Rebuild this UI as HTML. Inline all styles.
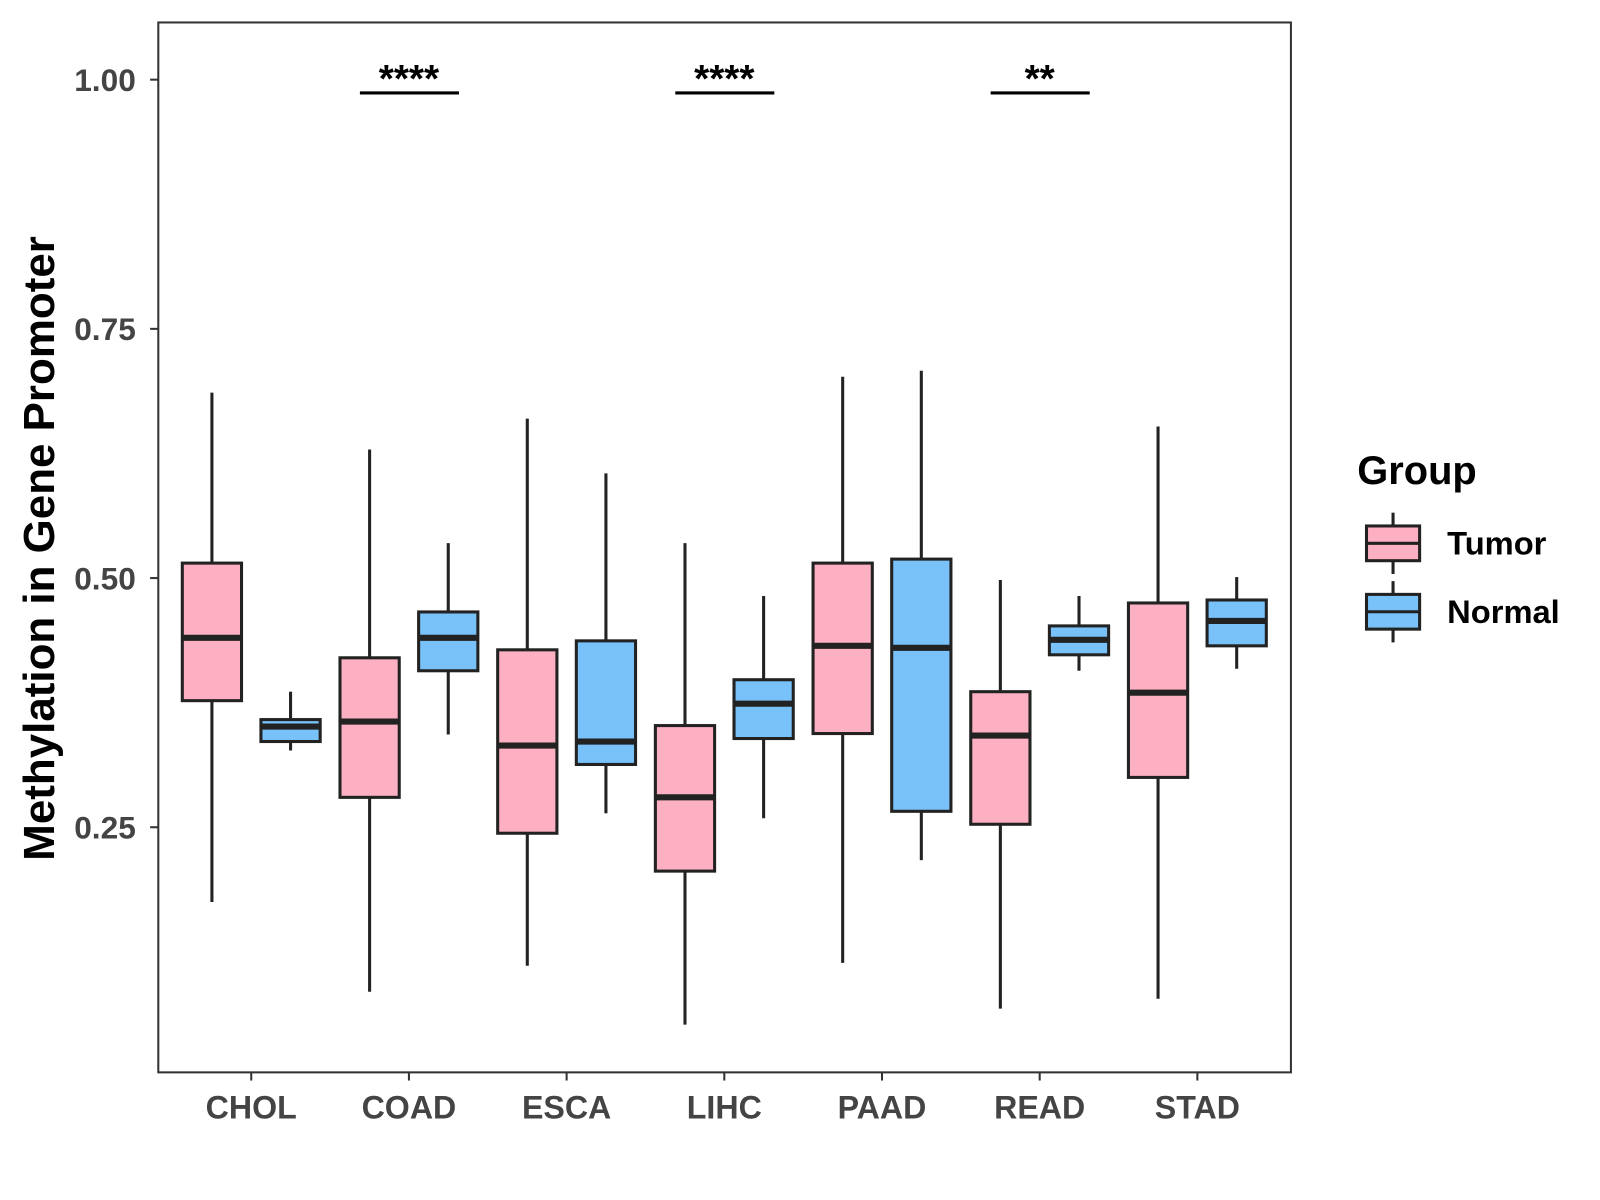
<!DOCTYPE html>
<html><head><meta charset="utf-8"><style>
body{margin:0;background:#fff;}
svg{display:block;font-family:"Liberation Sans",Arial,sans-serif;}
</style></head><body>
<svg id="chart" width="1600" height="1200" viewBox="0 0 1600 1200">
<rect x="0" y="0" width="1600" height="1200" fill="#fff"/>
<g id="plot" transform="scale(1.0213)"></g>
</svg>
<script>
const categories=["CHOL","COAD","ESCA","LIHC","PAAD","READ","STAD"];
// [lowWhisker, Q1, median, Q3, highWhisker]
const tumorStats=[[0.175,0.377,0.440,0.515,0.686],[0.085,0.280,0.356,0.420,0.629],[0.111,0.244,0.332,0.428,0.660],[0.052,0.206,0.280,0.352,0.535],[0.114,0.344,0.432,0.515,0.702],[0.068,0.253,0.342,0.386,0.498],[0.078,0.300,0.385,0.475,0.652]];
const normalStats=[[0.327,0.336,0.351,0.358,0.386],[0.343,0.407,0.440,0.466,0.535],[0.264,0.313,0.336,0.437,0.605],[0.259,0.339,0.374,0.398,0.482],[0.217,0.266,0.430,0.519,0.708],[0.407,0.423,0.438,0.452,0.482],[0.409,0.432,0.457,0.478,0.501]];
const yTicks=[0.25,0.50,0.75,1.00];
const yTickLabels=["0.25","0.50","0.75","1.00"];
const sigCategories=["COAD","LIHC","READ"];
const sigLabels=["****","****","**"];

const NS="http://www.w3.org/2000/svg";
const g=document.getElementById("plot");
const PL=155,PR=1264,PT=22,PB=1050;
const y=v=>78+(1-v)*976;
const xc=i=>246+i*154.4;
function mk(t,a,p){const e=document.createElementNS(NS,t);for(const k in a)e.setAttribute(k,a[k]);(p||g).appendChild(e);return e;}

const panel=mk("rect",{x:PL,y:PT,width:PR-PL,height:PB-PT,fill:"none",stroke:"#333","stroke-width":2});



yTicks.forEach((v,i)=>{
  const tk=mk("line",{x1:PL-8,x2:PL,y1:y(v),y2:y(v),stroke:"#333","stroke-width":2});
  
  
  const t=mk("text",{x:PL-22,y:y(v)+11,"text-anchor":"end","font-size":31,"font-weight":"bold",fill:"#444"});
  t.textContent=yTickLabels[i];
  
  
});
categories.forEach((c,i)=>{
  const tk=mk("line",{x1:xc(i),x2:xc(i),y1:PB,y2:PB+8,stroke:"#333","stroke-width":2});
  
  
  const t=mk("text",{x:xc(i),y:PB+45,"text-anchor":"middle","font-size":31.5,"font-weight":"bold",fill:"#444"});
  t.textContent=c;
  
  
});
function box(cx,s,fill,name){
  const grp=mk("g",{});
  
  
  const w=58;
  mk("line",{x1:cx,x2:cx,y1:y(s[4]),y2:y(s[3]),stroke:"#222","stroke-width":3},grp);
  mk("line",{x1:cx,x2:cx,y1:y(s[1]),y2:y(s[0]),stroke:"#222","stroke-width":3},grp);
  mk("rect",{x:cx-w/2,y:y(s[3]),width:w,height:y(s[1])-y(s[3]),fill:fill,stroke:"#222","stroke-width":3},grp);
  mk("line",{x1:cx-w/2,x2:cx+w/2,y1:y(s[2]),y2:y(s[2]),stroke:"#222","stroke-width":6},grp);
}
categories.forEach((c,i)=>{
  box(xc(i)-38.5,tumorStats[i],"#FDB0C2","box-tumor-"+c.toLowerCase());
  box(xc(i)+38.5,normalStats[i],"#78C1F9","box-normal-"+c.toLowerCase());
});
sigCategories.forEach((c,k)=>{
  const i=categories.indexOf(c);
  const l=mk("line",{x1:xc(i)-48,x2:xc(i)+49,y1:91,y2:91,stroke:"#000","stroke-width":3});
  
  
  const t=mk("text",{x:xc(i),y:90,"text-anchor":"middle","font-size":38,"font-weight":"bold",fill:"#000"});
  t.textContent=sigLabels[k];
  
  
});
const yt=mk("text",{x:0,y:0,transform:"translate(53,537) rotate(-90)","text-anchor":"middle","font-size":43,"font-weight":"bold",fill:"#000"});
yt.textContent="Methylation in Gene Promoter";


const lt=mk("text",{x:1329,y:474,"font-size":39,"font-weight":"bold",fill:"#000"});
lt.textContent="Group";


[["Tumor","#FDB0C2",532],["Normal","#78C1F9",599]].forEach(([lab,col,cy])=>{
  const e=mk("g",{});
  
  
  mk("line",{x1:1364,x2:1364,y1:cy-30,y2:cy+30,stroke:"#222","stroke-width":3},e);
  mk("rect",{x:1338,y:cy-17,width:52,height:34,fill:col,stroke:"#222","stroke-width":3},e);
  mk("line",{x1:1338,x2:1390,y1:cy,y2:cy,stroke:"#222","stroke-width":3},e);
  const t=mk("text",{x:1417,y:cy+11,"font-size":32,"font-weight":"bold",fill:"#000"},e);
  t.textContent=lab;
});
</script>
</body></html>
